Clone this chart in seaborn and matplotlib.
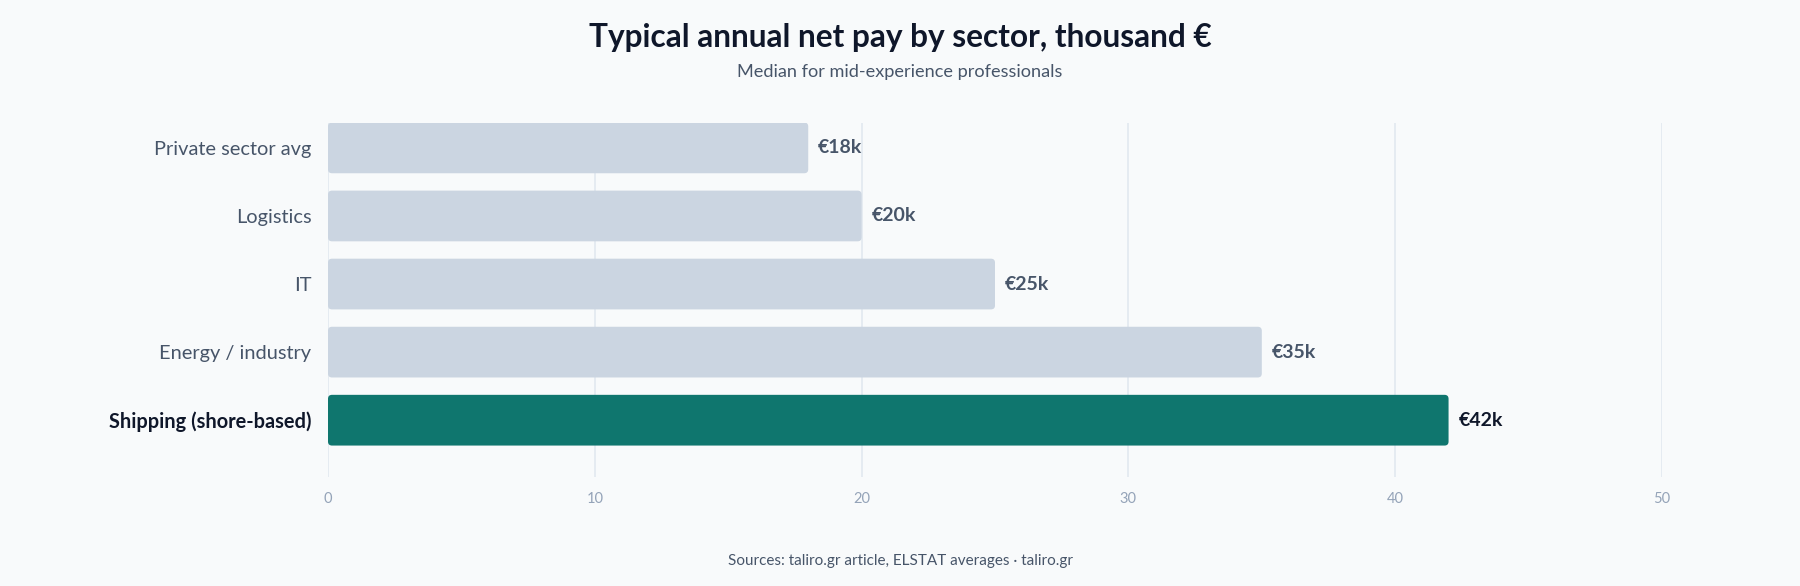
import matplotlib
matplotlib.use('Agg')
import matplotlib.pyplot as plt
from matplotlib.patches import FancyBboxPatch
import seaborn as sns
import pandas as pd

# Chart data
sectors = ['Private sector avg', 'Logistics', 'IT', 'Energy / industry', 'Shipping (shore-based)']
net_pay = [18, 20, 25, 35, 42]
value_labels = ['€18k', '€20k', '€25k', '€35k', '€42k']
highlight = 'Shipping (shore-based)'
x_ticks = [0, 10, 20, 30, 40, 50]

bg = '#f8fafb'
grey_bar = '#cbd5e1'
teal = '#0f766e'
dark = '#0f172a'
slate = '#475569'
tick_col = '#94a3b8'
grid_col = '#e2e8f0'

sns.set_theme(style='white')
plt.rcParams['font.family'] = ['Lato', 'DejaVu Sans']

df = pd.DataFrame({'sector': sectors, 'pay': net_pay})
palette = {s: (teal if s == highlight else grey_bar) for s in sectors}

fig = plt.figure(figsize=(18, 5.86), dpi=100, facecolor=bg)
ax = fig.add_axes([328 / 1800, 1 - 476.7 / 586, (1662 - 328) / 1800, (476.7 - 122.7) / 586])
ax.set_facecolor(bg)

sns.barplot(data=df, x='pay', y='sector', hue='sector', palette=palette, saturation=1,
            orient='h', width=0.745, legend=False, ax=ax, zorder=2)

ax.set_xlim(0, 50)
ax.set_ylim(4.83, -0.37)

# swap rectangles for slightly rounded bars
x_px = 1334 / 50
y_px = 354 / 5.2
for p in list(ax.patches):
    x, y = p.get_x(), p.get_y()
    w, h = p.get_width(), p.get_height()
    fc = p.get_facecolor()
    p.remove()
    r = 4 / x_px
    ax.add_patch(FancyBboxPatch((x, y), w, h,
                                boxstyle=f'round,pad=0,rounding_size={r}',
                                mutation_aspect=x_px / y_px,
                                facecolor=fc, edgecolor='none', zorder=2))

for i, (v, lab) in enumerate(zip(net_pay, value_labels)):
    c = dark if sectors[i] == highlight else slate
    ax.text(v + 10 / x_px, i, lab, va='center', ha='left', fontsize=14,
            fontweight='bold', color=c)

ax.set_xticks(x_ticks)
ax.set_xticklabels([str(t) for t in x_ticks], color=tick_col, fontsize=10.5)
ax.tick_params(axis='x', length=0, pad=11)
ax.tick_params(axis='y', length=0, pad=12)
ax.set_yticks(range(len(sectors)))
ax.set_yticklabels(sectors, fontsize=14.4, color=slate)
for t in ax.get_yticklabels():
    if t.get_text() == highlight:
        t.set_fontweight('bold')
        t.set_color(dark)

ax.grid(axis='x', color=grid_col, linewidth=1.2, zorder=0)
ax.grid(axis='y', visible=False)
for s in ax.spines.values():
    s.set_visible(False)
ax.set_xlabel('')
ax.set_ylabel('')

fig.text(0.5, 1 - 37 / 586, 'Typical annual net pay by sector, thousand €', ha='center', va='center',
         fontsize=22.8, fontweight='bold', color=dark)
fig.text(0.5, 1 - 71.5 / 586, 'Median for mid-experience professionals', ha='center', va='center',
         fontsize=13.1, color=slate)
fig.text(0.5, 1 - 561 / 586, 'Sources: taliro.gr article, ELSTAT averages · taliro.gr', ha='center', va='center',
         fontsize=11, color=slate)

fig.savefig('out.png', dpi=100, facecolor=bg)
